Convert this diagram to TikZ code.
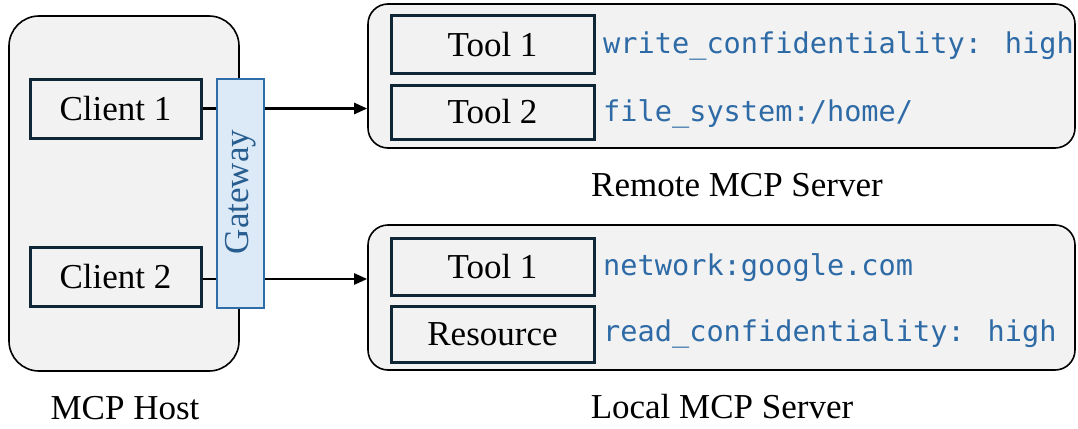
\documentclass[tikz,border=0pt]{standalone}
\usepackage{fontspec}
\setmainfont{Liberation Serif}
\newfontfamily\codefont{DejaVu Sans Mono}
\usetikzlibrary{arrows.meta}
\definecolor{boxgrey}{HTML}{F2F2F2}
\definecolor{navy}{HTML}{0E2636}
\definecolor{gwfill}{HTML}{DCE9F6}
\definecolor{gwline}{HTML}{2E6DA8}
\definecolor{codeblue}{HTML}{2E6BA6}
\tikzset{
  lbl/.style={font=\fontsize{35}{41}\selectfont, inner sep=0pt},
  hostbox/.style={draw=black, line width=1.6pt, fill=boxgrey, rounded corners=30pt},
  serverbox/.style={draw=black, line width=1.6pt, fill=boxgrey, rounded corners=20pt},
  itembox/.style={draw=navy, line width=3pt, font=\fontsize{35}{41}\selectfont, inner sep=0pt},
  gwbox/.style={draw=gwline, fill=gwfill, line width=2pt, inner sep=0pt},
  code/.style={font=\codefont\fontsize{28.6}{34}\selectfont, text=codeblue, inner sep=0pt, anchor=base west},
  link/.style={draw=black, line width=2.8pt},
  arr/.style={draw=black, line width=2.4pt, -{Triangle[length=13pt,width=11pt]}}
}
\begin{document}
\begin{tikzpicture}[x=1pt,y=-1pt]
\useasboundingbox (0,0) rectangle (1078,428);
% host
\node[hostbox, minimum width=230pt, minimum height=355pt] (host) at (124,193.5) {};
\node[itembox, minimum width=171pt, minimum height=59pt] (c1) at (115.5,108.5) {Client 1};
\node[itembox, minimum width=171pt, minimum height=59pt] (c2) at (115.5,276.5) {Client 2};
\node[gwbox, minimum width=47pt, minimum height=229pt] (gw) at (240.5,193.5) {};
\node[lbl, text=gwline!85!black, rotate=90] (gwt) at (241,192) {Gateway};
\node[lbl] (hostlbl) at (125,408) {MCP Host};
% remote server
\node[serverbox, minimum width=707pt, minimum height=144pt] (remote) at (721.5,76) {};
\node[itembox, minimum width=203pt, minimum height=57pt] (t1) at (492.5,44.5) {Tool 1};
\node[itembox, minimum width=203pt, minimum height=54pt] (t2) at (492.5,112) {Tool 2};
\node[code] (w) at (603,53) {write\_confidentiality: high};
\node[code] (f) at (603,121) {file\_system:/home/};
\node[lbl] (rlbl) at (737,185) {Remote MCP Server};
% local server
\node[serverbox, minimum width=707pt, minimum height=145pt] (local) at (721.5,297.5) {};
\node[itembox, minimum width=203pt, minimum height=57pt] (lt1) at (492.5,266.5) {Tool 1};
\node[itembox, minimum width=203pt, minimum height=56pt] (res) at (492.5,334) {Resource};
\node[code] (n) at (603,275) {network:google.com};
\node[code] (r) at (603,341) {read\_confidentiality: high};
\node[lbl] (llbl) at (722,407) {Local MCP Server};
% connectors
\draw[link] (c1.east) -- (gw.west |- c1.east);
\draw[link] (c2.east |- 0,279) coordinate (c2o) -- (gw.west |- c2o);
\draw[arr] (gw.east |- c1.east) -- (remote.west |- c1.east);
\draw[arr] (gw.east |- c2o) -- (local.west |- c2o);
\end{tikzpicture}
\end{document}
